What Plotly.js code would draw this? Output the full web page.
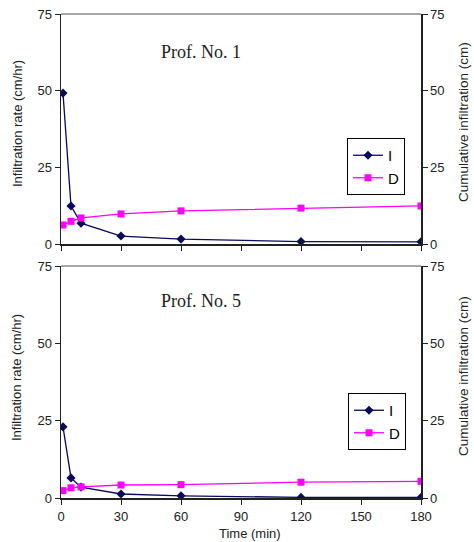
<!DOCTYPE html>
<html><head><meta charset="utf-8">
<script src="https://cdn.plot.ly/plotly-3.0.1.min.js"></script>
<style>body{margin:0;background:#fff}#c{width:474px;height:542px}</style>
</head><body><div id="c"></div>
<script>
// ---- data ----
const time = [1, 5, 10, 30, 60, 120, 180];
const rateP1 = [49.2, 12.4, 6.8, 2.6, 1.6, 0.8, 0.7];
const cumP1  = [6.2, 7.4, 8.5, 9.8, 10.8, 11.7, 12.4];
const rateP5 = [23, 6.5, 3.5, 1.3, 0.7, 0.2, 0.2];
const cumP5  = [2.4, 3.3, 3.6, 4.2, 4.3, 5.1, 5.4];
const seriesNames = ['I', 'D'];
const panelTitles = ['Prof. No. 1', 'Prof. No. 5'];
const yTicks = [0, 25, 50, 75];
const xTicks = [0, 30, 60, 90, 120, 150, 180];

// ---- layout helpers (pixels -> paper) ----
const W = 474, H = 542, ML = 61, MR = 53, MT = 14, MB = 44;
const pw = W - ML - MR, ph = H - MT - MB;
const px = x => (x - ML) / pw;
const py = y => (H - MB - y) / ph;

const navy = '#0a0a5a', mag = '#ff00ff';
const lineI = {color: navy, width: 1.3};
const lineD = {color: mag, width: 1.3};
const mkI = {symbol: 'diamond', size: 7, color: navy};
const mkD = {symbol: 'square', size: 7, color: mag};

const traces = [
  {x: time, y: rateP1, name: seriesNames[0], mode: 'lines+markers', line: lineI, marker: mkI, xaxis: 'x', yaxis: 'y', legend: 'legend'},
  {x: time, y: cumP1, name: seriesNames[1], mode: 'lines+markers', line: lineD, marker: mkD, xaxis: 'x', yaxis: 'y3', legend: 'legend'},
  {x: time, y: rateP5, name: seriesNames[0], mode: 'lines+markers', line: lineI, marker: mkI, xaxis: 'x2', yaxis: 'y2', legend: 'legend2'},
  {x: time, y: cumP5, name: seriesNames[1], mode: 'lines+markers', line: lineD, marker: mkD, xaxis: 'x2', yaxis: 'y4', legend: 'legend2'}
];

const tickFont = {family: 'Arial, Liberation Sans, sans-serif', size: 13, color: '#222'};
const axBase = {range: [0, 75], tickvals: yTicks, ticks: 'outside', ticklen: 5, tickcolor: '#222',
  showline: true, linecolor: '#222', linewidth: 1.5, showgrid: false, zeroline: false, tickfont: tickFont, fixedrange: true};
const xBase = {range: [0, 180], tickvals: xTicks, ticks: 'outside', ticklen: 5, tickcolor: '#222',
  showline: true, linecolor: '#222', linewidth: 2, showgrid: false, zeroline: false, tickfont: tickFont};

const topDom = [py(244), 1];
const botDom = [0, py(266)];

const legBase = {bordercolor: '#000', borderwidth: 1, bgcolor: '#fff', xanchor: 'left', yanchor: 'top',
  font: {family: 'Arial, Liberation Sans, sans-serif', size: 15, color: '#000'}, itemwidth: 30, tracegroupgap: 0};

const ann = [];
const serif = {family: 'Liberation Serif, Times New Roman, serif', size: 18, color: '#222'};
ann.push({text: panelTitles[0], x: px(201), y: py(52), xref: 'paper', yref: 'paper', showarrow: false,
  xanchor: 'center', yanchor: 'middle', font: serif});
ann.push({text: panelTitles[1], x: px(201), y: py(301), xref: 'paper', yref: 'paper', showarrow: false,
  xanchor: 'center', yanchor: 'middle', font: serif});
const labL = {family: 'Arial, Liberation Sans, sans-serif', size: 13, color: '#222'};
const labR = {family: 'Arial, Liberation Sans, sans-serif', size: 13.5, color: '#222'};
[[124, 'Infiltration rate (cm/hr)', 17, labL], [378, 'Infiltration rate (cm/hr)', 17, labL],
 [122, 'Cumulative infiltration (cm)', 463, labR], [376, 'Cumulative infiltration (cm)', 463, labR]].forEach(a => {
  ann.push({text: a[1], x: px(a[2]), y: py(a[0]), xref: 'paper', yref: 'paper', showarrow: false,
    xanchor: 'center', yanchor: 'middle', textangle: -90, font: a[3]});
});
ann.push({text: 'Time (min)', x: px(250), y: py(533), xref: 'paper', yref: 'paper', showarrow: false,
  xanchor: 'center', yanchor: 'middle', font: labL});

const layout = {
  width: W, height: H, margin: {l: ML, r: MR, t: MT, b: MB},
  paper_bgcolor: '#fff', plot_bgcolor: '#fff',
  xaxis: Object.assign({}, xBase, {domain: [0, 1], anchor: 'y', showticklabels: false}),
  xaxis2: Object.assign({}, xBase, {domain: [0, 1], anchor: 'y2'}),
  yaxis: Object.assign({}, axBase, {domain: topDom, anchor: 'x'}),
  yaxis2: Object.assign({}, axBase, {domain: botDom, anchor: 'x2'}),
  yaxis3: Object.assign({}, axBase, {overlaying: 'y', side: 'right', anchor: 'x'}),
  yaxis4: Object.assign({}, axBase, {overlaying: 'y2', side: 'right', anchor: 'x2'}),
  legend: Object.assign({}, legBase, {x: px(347), y: py(138)}),
  legend2: Object.assign({}, legBase, {x: px(348), y: py(393)}),
  showlegend: true,
  annotations: ann,
  shapes: [
    {type: 'line', xref: 'paper', yref: 'paper', x0: 0, x1: 1, y0: 1, y1: 1, line: {color: '#888', width: 1.5}},
    {type: 'line', xref: 'paper', yref: 'paper', x0: 0, x1: 1, y0: botDom[1], y1: botDom[1], line: {color: '#888', width: 1.5}}
  ]
};
Plotly.newPlot('c', traces, layout, {staticPlot: true});
</script></body></html>
